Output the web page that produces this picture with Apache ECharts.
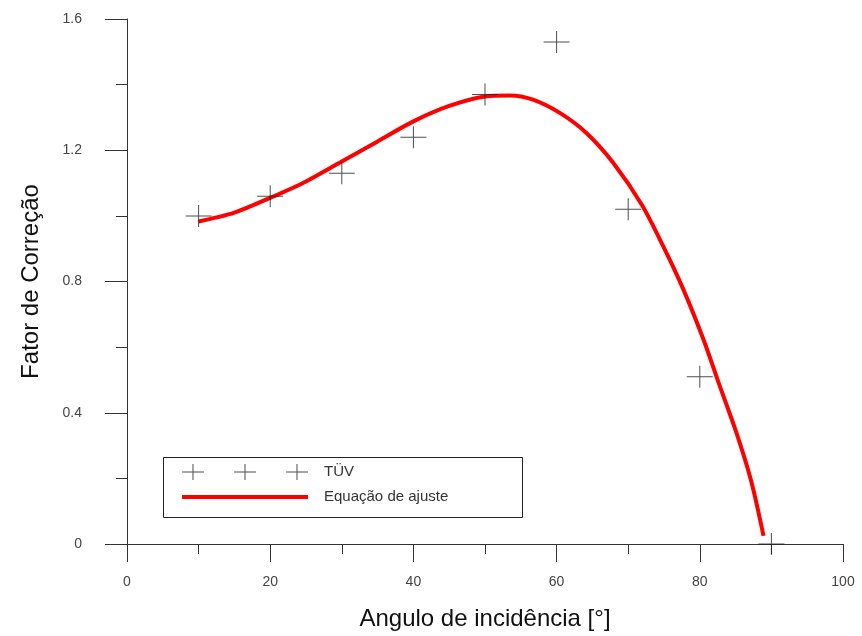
<!DOCTYPE html>
<html>
<head>
<meta charset="utf-8">
<script src="https://cdn.jsdelivr.net/npm/echarts@6/dist/echarts.min.js"></script>
<style>
  html, body { margin: 0; padding: 0; background: #fff; }
  #chart { width: 862px; height: 636px; }
</style>
</head>
<body>
<div id="chart"></div>
<script>
// measured points (TÜV)
const tuvX = [10, 20, 30, 40, 50, 60, 70, 80, 90];
const tuvY = [1.00, 1.06, 1.13, 1.24, 1.37, 1.53, 1.02, 0.51, 0.00];

// fitted curve
const fitX = [10, 15, 20, 25, 30, 35, 40, 45, 50, 53.5, 56.7, 60.5, 64.2, 67.9,
              71.9, 74.9, 77.7, 80.5, 82.8, 85.1, 87.2, 88.9];
const fitY = [0.983, 1.01, 1.055, 1.105, 1.166, 1.227, 1.288, 1.335, 1.364, 1.367, 1.354, 1.313,
              1.252, 1.162, 1.034, 0.907, 0.776, 0.624, 0.481, 0.340, 0.19, 0.025];

const seriesNames = ['TÜV', 'Equação de ajuste'];

const crossPath = 'path://M0,10.5h26v1h-26z M12.5,0h1v22h-1z';

function crossesIcon() {
    // three small crosses for the legend
    let p = '';
    [11, 63, 115].forEach(function (c) {
        p += 'M' + (c - 11) + ',7.5h22v1h-22z M' + (c - 0.5) + ',0h1v16h-1z ';
    });
    return 'path://' + p;
}

function pairs(xs, ys) {
    return xs.map(function (x, i) { return [x, ys[i]]; });
}

let myChart = echarts.init(document.getElementById('chart'));

let font = 'Liberation Sans, Arial, sans-serif';

let option = {
    backgroundColor: '#fff',
    animation: false,
    grid: { left: 127, right: 19, top: 19, bottom: 91 },
    legend: {
        orient: 'vertical',
        left: 180,
        top: 464,
        padding: 0,
        itemWidth: 126,
        itemHeight: 16,
        itemGap: 9,
        selectedMode: false,
        textStyle: { fontFamily: font, fontSize: 15, color: '#333', lineHeight: 16, padding: [0, 0, 0, 11] },
        data: [
            { name: seriesNames[0], icon: crossesIcon(), itemStyle: { color: '#222' } },
            { name: seriesNames[1], itemStyle: { opacity: 0 }, lineStyle: { width: 4, color: '#ff0000' } }
        ]
    },
    graphic: [{
        type: 'rect',
        shape: { x: 163.5, y: 457.5, width: 359, height: 60 },
        style: { fill: 'none', stroke: '#222', lineWidth: 1 },
        z: 10
    }],
    xAxis: {
        type: 'value',
        min: 0,
        max: 100,
        interval: 20,
        name: 'Angulo de incidência [°]',
        nameLocation: 'middle',
        nameGap: 63,
        nameTextStyle: { fontFamily: font, fontSize: 24, color: '#111' },
        axisLine: { onZero: false, lineStyle: { color: '#333', width: 1 } },
        axisTick: { length: 18, lineStyle: { color: '#333' } },
        minorTick: { show: true, splitNumber: 2, length: 10, lineStyle: { color: '#333' } },
        splitLine: { show: false },
        axisLabel: { margin: 31, fontFamily: font, fontSize: 14, color: '#444' }
    },
    yAxis: {
        type: 'value',
        min: 0,
        max: 1.6,
        interval: 0.4,
        name: 'Fator de Correção',
        nameLocation: 'middle',
        nameGap: 84,
        nameTextStyle: { fontFamily: 'Liberation Sans Narrow, Liberation Sans, Arial, sans-serif', fontSize: 24, color: '#111' },
        axisLine: { show: true, onZero: false, lineStyle: { color: '#333', width: 1 } },
        axisTick: { show: true, length: 22, lineStyle: { color: '#333' } },
        minorTick: { show: true, splitNumber: 2, length: 11, lineStyle: { color: '#333' } },
        splitLine: { show: false },
        axisLabel: { margin: 45, fontFamily: font, fontSize: 14, color: '#444' }
    },
    series: [
        {
            name: seriesNames[0],
            type: 'scatter',
            symbol: crossPath,
            symbolSize: [26, 22],
            itemStyle: { color: '#222' },
            data: pairs(tuvX, tuvY),
            z: 3
        },
        {
            name: seriesNames[1],
            type: 'line',
            smooth: 0.3,
            symbol: 'none',
            lineStyle: { color: '#ff0000', width: 4 },
            itemStyle: { color: '#ff0000' },
            data: pairs(fitX, fitY),
            z: 2
        }
    ]
};

myChart.setOption(option);
</script>
</body>
</html>
